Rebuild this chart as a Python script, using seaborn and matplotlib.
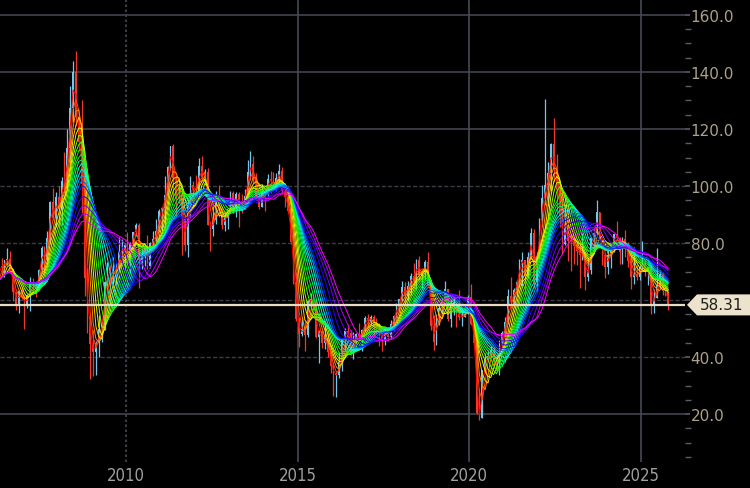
import numpy as np
import pandas as pd
import matplotlib
matplotlib.use("Agg")
import matplotlib.pyplot as plt
import matplotlib.transforms as mtransforms
from matplotlib.patches import Polygon
import seaborn as sns

# monthly WTI candles, Jan 2006 .. Oct 2025
opens = [
    61.0, 67.9, 61.4, 66.6, 71.9, 71.3, 73.9, 74.4, 70.3, 62.9, 58.7, 63.1,  # 2006
    61.1, 58.1, 61.8, 65.9, 65.7, 64.0, 70.7, 78.2, 74.0, 81.7, 94.5, 88.7,  # 2007
    96.0, 91.8, 101.8, 101.6, 113.5, 127.4, 140.0, 124.1, 115.5, 100.6, 67.8, 54.4,  # 2008
    44.6, 41.7, 44.8, 49.7, 51.1, 66.3, 69.9, 69.5, 70.0, 70.6, 77.0, 77.3,  # 2009
    79.4, 72.9, 79.7, 83.8, 86.2, 74.0, 75.6, 79.0, 71.9, 80.0, 81.4, 84.1,  # 2010
    91.4, 92.2, 97.0, 106.7, 113.9, 102.7, 95.4, 95.7, 88.8, 79.2, 93.2, 100.4,  # 2011
    98.8, 98.5, 107.1, 103.0, 104.9, 86.5, 85.0, 88.1, 96.5, 92.2, 86.2, 88.9,  # 2012
    91.8, 97.5, 92.05, 97.2, 93.5, 92.0, 96.6, 105.0, 107.7, 102.3, 96.4, 92.7,  # 2013
    98.4, 97.5, 102.6, 101.6, 99.7, 102.7, 105.4, 98.2, 96.0, 91.2, 80.5, 66.2,  # 2014
    53.3, 48.2, 49.8, 47.6, 59.6, 60.3, 59.5, 47.1, 49.2, 45.1, 46.6, 41.65,  # 2015
    37.0, 33.6, 33.75, 38.3, 45.9, 49.1, 48.3, 41.6, 44.7, 48.2, 46.9, 49.4,  # 2016
    53.7, 52.8, 54.0, 50.6, 49.3, 48.3, 46.0, 50.2, 47.2, 51.7, 54.4, 57.4,  # 2017
    60.4, 64.7, 61.6, 64.9, 68.6, 67.0, 74.2, 68.8, 69.8, 73.25, 65.3, 50.9,  # 2018
    45.4, 53.8, 57.2, 60.1, 63.9, 53.5, 58.5, 58.6, 55.1, 54.1, 54.2, 55.2,  # 2019
    61.1, 51.6, 44.8, 20.5, 18.8, 35.5, 39.3, 40.3, 42.6, 40.2, 35.8, 45.3,  # 2020
    48.5, 52.2, 61.5, 59.2, 63.6, 66.3, 73.5, 73.95, 68.5, 75.0, 83.6, 66.2,  # 2021
    75.2, 88.15, 95.7, 100.3, 104.7, 114.7, 105.8, 98.6, 89.55, 79.5, 86.5, 80.55,  # 2022
    80.3, 78.9, 77.05, 75.7, 76.8, 68.1, 70.6, 81.8, 83.6, 90.8, 81.0, 75.96,  # 2023
    71.65, 75.85, 78.3, 83.2, 81.9, 77.0, 81.5, 77.9, 73.55, 68.2, 69.3, 68.0,  # 2024
    71.7, 72.5, 69.8, 71.5, 58.2, 60.8, 65.1, 69.3, 64.0, 62.4,  # 2025
]
highs = [
    69.2, 68.5, 67.2, 75.4, 74.7, 74.2, 78.4, 77.3, 70.8, 63.1, 63.6, 64.3,
    61.9, 62.2, 68.1, 67.9, 66.6, 70.9, 78.8, 78.8, 84.1, 94.7, 99.3, 97.9,
    100.1, 103.0, 111.8, 119.9, 135.1, 143.7, 147.3, 125.0, 130.0, 102.0, 71.2, 55.0,
    49.6, 45.8, 54.7, 53.3, 66.7, 73.4, 72.3, 75.0, 72.9, 82.0, 81.5, 80.0,
    83.95, 80.5, 83.9, 87.2, 87.0, 79.0, 79.4, 82.9, 80.2, 84.4, 88.6, 91.9,
    92.6, 103.4, 106.9, 113.9, 114.8, 103.4, 100.6, 95.8, 90.5, 94.7, 103.4, 101.8,
    103.7, 109.95, 110.6, 106.0, 106.4, 87.6, 92.9, 98.3, 100.4, 93.0, 90.8, 91.5,
    98.2, 98.2, 97.8, 97.8, 97.3, 99.0, 109.3, 112.2, 110.7, 104.4, 96.5, 100.75,
    98.5, 104.1, 105.2, 104.99, 104.5, 107.7, 106.5, 99.3, 96.2, 92.8, 82.7, 69.9,
    54.0, 54.2, 52.5, 59.9, 62.6, 62.0, 60.0, 49.5, 49.3, 50.9, 48.4, 42.0,
    38.4, 34.7, 41.9, 46.8, 50.2, 51.7, 49.5, 48.75, 48.4, 51.9, 49.9, 54.5,
    55.2, 54.9, 54.6, 53.8, 52.0, 48.9, 50.4, 50.4, 52.9, 54.9, 59.05, 60.5,
    66.7, 66.3, 66.6, 69.6, 72.9, 74.5, 75.3, 70.6, 73.9, 76.9, 65.6, 54.6,
    55.0, 57.8, 60.7, 66.6, 64.0, 59.9, 60.9, 58.8, 63.4, 56.9, 58.7, 61.9,
    65.65, 54.7, 48.7, 29.1, 35.6, 41.6, 42.5, 43.8, 43.4, 41.9, 45.9, 49.3,
    53.9, 63.8, 67.98, 64.4, 67.0, 74.45, 76.98, 74.0, 76.7, 85.4, 84.9, 76.8,
    88.8, 100.5, 130.5, 108.4, 115.0, 123.7, 111.1, 98.9, 97.65, 93.6, 93.7, 83.3,
    82.7, 80.6, 80.9, 83.5, 76.9, 75.1, 82.0, 84.9, 95.0, 90.9, 81.0, 76.2,
    79.3, 79.3, 83.3, 87.7, 82.0, 82.2, 84.5, 80.2, 76.0, 78.5, 72.3, 72.3,
    80.8, 74.0, 71.6, 72.2, 63.9, 78.4, 70.5, 70.0, 66.4, 63.1,
]
lows = [
    60.5, 57.6, 59.6, 65.7, 68.1, 68.0, 72.3, 69.8, 59.5, 56.6, 55.6, 60.2,
    49.9, 57.2, 56.3, 62.9, 61.2, 63.5, 69.9, 69.0, 73.8, 79.6, 88.0, 85.7,
    86.1, 86.5, 98.7, 99.6, 109.4, 122.5, 121.0, 112.2, 90.5, 61.3, 48.3, 32.4,
    33.2, 33.6, 40.1, 45.2, 49.5, 65.1, 58.3, 66.0, 65.1, 67.7, 75.1, 69.5,
    72.4, 69.5, 78.0, 82.5, 64.2, 70.8, 71.8, 70.8, 71.2, 78.2, 80.8, 84.0,
    84.6, 84.1, 96.9, 105.5, 94.6, 89.6, 93.9, 75.7, 77.1, 74.95, 89.0, 92.5,
    96.7, 95.4, 102.6, 100.7, 86.2, 77.3, 82.3, 86.8, 89.3, 84.9, 84.1, 84.9,
    91.5, 90.6, 89.3, 85.6, 90.4, 91.9, 95.4, 102.2, 101.0, 95.2, 91.8, 92.5,
    91.2, 96.2, 97.4, 98.65, 98.1, 101.5, 97.2, 92.5, 90.4, 79.8, 65.7, 52.7,
    43.6, 47.4, 42.0, 47.1, 56.5, 56.7, 46.7, 37.75, 43.2, 43.0, 39.9, 34.5,
    26.2, 26.05, 32.6, 35.2, 43.0, 45.8, 40.6, 39.2, 42.5, 46.0, 42.2, 49.1,
    50.7, 51.2, 47.1, 48.2, 43.8, 42.05, 44.4, 45.6, 46.5, 49.1, 53.8, 55.8,
    59.7, 58.1, 59.95, 61.8, 66.4, 63.6, 67.0, 64.4, 67.0, 64.8, 49.4, 42.4,
    44.4, 51.2, 55.0, 59.9, 52.8, 50.6, 54.8, 50.5, 52.9, 50.99, 54.0, 55.0,
    51.1, 44.0, 20.1, 18.0, 18.5, 34.4, 38.7, 40.2, 36.1, 34.9, 33.6, 44.3,
    47.2, 51.6, 57.3, 57.6, 61.6, 64.6, 65.0, 61.7, 67.6, 74.4, 64.4, 62.4,
    74.3, 85.7, 93.5, 92.9, 98.2, 101.5, 90.6, 85.7, 76.25, 79.3, 73.6, 70.1,
    72.5, 72.3, 64.1, 74.0, 63.6, 66.8, 69.0, 77.6, 83.1, 80.6, 72.4, 67.7,
    69.3, 71.4, 77.0, 81.1, 72.5, 72.5, 75.1, 71.5, 64.0, 65.7, 66.9, 66.9,
    71.0, 68.3, 65.2, 55.1, 55.3, 60.6, 64.2, 61.9, 61.5, 56.4,
]
closes = [
    67.9, 61.4, 66.6, 71.9, 71.3, 73.9, 74.4, 70.3, 62.9, 58.7, 63.1, 61.1,
    58.1, 61.8, 65.9, 65.7, 64.0, 70.7, 78.2, 74.0, 81.7, 94.5, 88.7, 96.0,
    91.8, 101.8, 101.6, 113.5, 127.4, 140.0, 124.1, 115.5, 100.6, 67.8, 54.4, 44.6,
    41.7, 44.8, 49.7, 51.1, 66.3, 69.9, 69.5, 70.0, 70.6, 77.0, 77.3, 79.4,
    72.9, 79.7, 83.8, 86.2, 74.0, 75.6, 79.0, 71.9, 80.0, 81.4, 84.1, 91.4,
    92.2, 97.0, 106.7, 113.9, 102.7, 95.4, 95.7, 88.8, 79.2, 93.2, 100.4, 98.8,
    98.5, 107.1, 103.0, 104.9, 86.5, 85.0, 88.1, 96.5, 92.2, 86.2, 88.9, 91.8,
    97.5, 92.05, 97.2, 93.5, 92.0, 96.6, 105.0, 107.7, 102.3, 96.4, 92.7, 98.4,
    97.5, 102.6, 101.6, 99.7, 102.7, 105.4, 98.2, 96.0, 91.2, 80.5, 66.2, 53.3,
    48.2, 49.8, 47.6, 59.6, 60.3, 59.5, 47.1, 49.2, 45.1, 46.6, 41.65, 37.0,
    33.6, 33.75, 38.3, 45.9, 49.1, 48.3, 41.6, 44.7, 48.2, 46.9, 49.4, 53.7,
    52.8, 54.0, 50.6, 49.3, 48.3, 46.0, 50.2, 47.2, 51.7, 54.4, 57.4, 60.4,
    64.7, 61.6, 64.9, 68.6, 67.0, 74.2, 68.8, 69.8, 73.25, 65.3, 50.9, 45.4,
    53.8, 57.2, 60.1, 63.9, 53.5, 58.5, 58.6, 55.1, 54.1, 54.2, 55.2, 61.1,
    51.6, 44.8, 20.5, 18.8, 35.5, 39.3, 40.3, 42.6, 40.2, 35.8, 45.3, 48.5,
    52.2, 61.5, 59.2, 63.6, 66.3, 73.5, 73.95, 68.5, 75.0, 83.6, 66.2, 75.2,
    88.15, 95.7, 100.3, 104.7, 114.7, 105.8, 98.6, 89.55, 79.5, 86.5, 80.55, 80.3,
    78.9, 77.05, 75.7, 76.8, 68.1, 70.6, 81.8, 83.6, 90.8, 81.0, 75.96, 71.65,
    75.85, 78.3, 83.2, 81.9, 77.0, 81.5, 77.9, 73.55, 68.2, 69.3, 68.0, 71.7,
    72.5, 69.8, 71.5, 58.2, 60.8, 65.1, 69.3, 64.0, 62.4, 58.31,
]
months = pd.date_range("2006-01-01", periods=len(closes), freq="MS")

# rainbow of simple moving averages (months), fast (red) to slow (magenta)
ma_lengths = [2, 3, 4, 5, 6, 7, 8, 9, 10, 11, 12, 13, 14, 15, 16, 18, 20, 22, 24]
year_ticks = [2010, 2015, 2020, 2025]
price_ticks = [20, 40, 60, 80, 100, 120, 140, 160]

df = pd.DataFrame({"o": opens, "h": highs, "l": lows, "c": closes})
df["x"] = months.year + (months.month - 0.5) / 12

mas = []
for n in ma_lengths:
    mas.append(pd.DataFrame({"x": df.x, "ma": df.c.rolling(n, min_periods=1).mean(), "n": n}))
ma_long = pd.concat(mas, ignore_index=True)
hues = np.linspace(0, 0.83, len(ma_lengths))
pal = {n: matplotlib.colors.hsv_to_rgb((h, 1, 1)) for n, h in zip(ma_lengths, hues)}

sns.set_style("dark", {"axes.facecolor": "black", "figure.facecolor": "black"})

fig = plt.figure(figsize=(7.5, 4.89), dpi=100)
ax = fig.add_axes([0, 26 / 489, 685 / 750, 463 / 489])
ax.set_facecolor("black")

# grid
for p in price_ticks:
    if p in (40, 60, 80, 100):
        ax.axhline(p, color="#3a3d48", lw=1.0, ls=(0, (3, 1.5)), zorder=0)
    else:
        ax.axhline(p, color="#3c3f4a", lw=1.3, zorder=0)
for yr in year_ticks:
    ls = (0, (1.5, 1.5)) if yr == 2010 else "-"
    ax.axvline(yr, color="#464955", lw=1.2, ls=ls, zorder=0)

# candles
up = df.c >= df.o
col = np.where(up, "#74c7e8", "#f0382c")
ax.vlines(df.x, df.l, df.h, colors=col, lw=0.9, zorder=2)
ax.bar(df.x, (df.c - df.o).abs().clip(lower=0.3), bottom=df[["o", "c"]].min(axis=1),
       width=0.05, color=col, edgecolor=col, linewidth=0, zorder=2)

sns.lineplot(data=ma_long, x="x", y="ma", hue="n", palette=pal, legend=False,
             lw=0.7, errorbar=None, ax=ax, zorder=3)

# last price line + tag
last = closes[-1]
ax.axhline(last, color="#e6dcc4", lw=1.6, zorder=4)
tag = (mtransforms.Affine2D().scale(1.0)
       + mtransforms.ScaledTranslation(1.0, last, ax.get_yaxis_transform()))
ax.add_patch(Polygon([(2, 0), (12, 10.5), (70, 10.5), (70, -10.5), (12, -10.5)],
                     closed=True, fc="#ede3cc", ec="none", transform=tag, clip_on=False,
                     zorder=10))
ax.annotate(f"{last:.2f}", xy=(1.0, last), xycoords=ax.get_yaxis_transform(),
            xytext=(15, 0), textcoords="offset pixels", ha="left", va="center",
            color="#1e1e1e", fontsize=11, family="DejaVu Sans", annotation_clip=False,
            zorder=11)

ax.set_xlim(2006.33, 2026.28)
ax.set_ylim(3.2, 165.6)
ax.set_xlabel("")
ax.set_ylabel("")
for sp in ax.spines.values():
    sp.set_visible(False)

ax.set_xticks(year_ticks)
ax.set_xticklabels([str(y) for y in year_ticks], color="#a0a0a0", fontsize=12,
                   fontstretch="condensed")
ax.tick_params(axis="x", length=0, pad=3)

# 60.0 sits under the price tag, so it has no label
ax.yaxis.tick_right()
ax.set_yticks(price_ticks)
ax.set_yticklabels(["" if p == 60 else f"{p:.1f}" for p in price_ticks],
                   color="#aca189", fontsize=11)
ax.set_yticks([v for v in range(5, 165, 5) if v % 20], minor=True)
ax.tick_params(axis="y", which="major", length=3.5, width=1.2, color="#5a5d66", pad=0.5)
ax.tick_params(axis="y", which="minor", length=4, width=1.0, color="#5a5d66", right=True)

fig.savefig("out.png", dpi=100, facecolor="black")
